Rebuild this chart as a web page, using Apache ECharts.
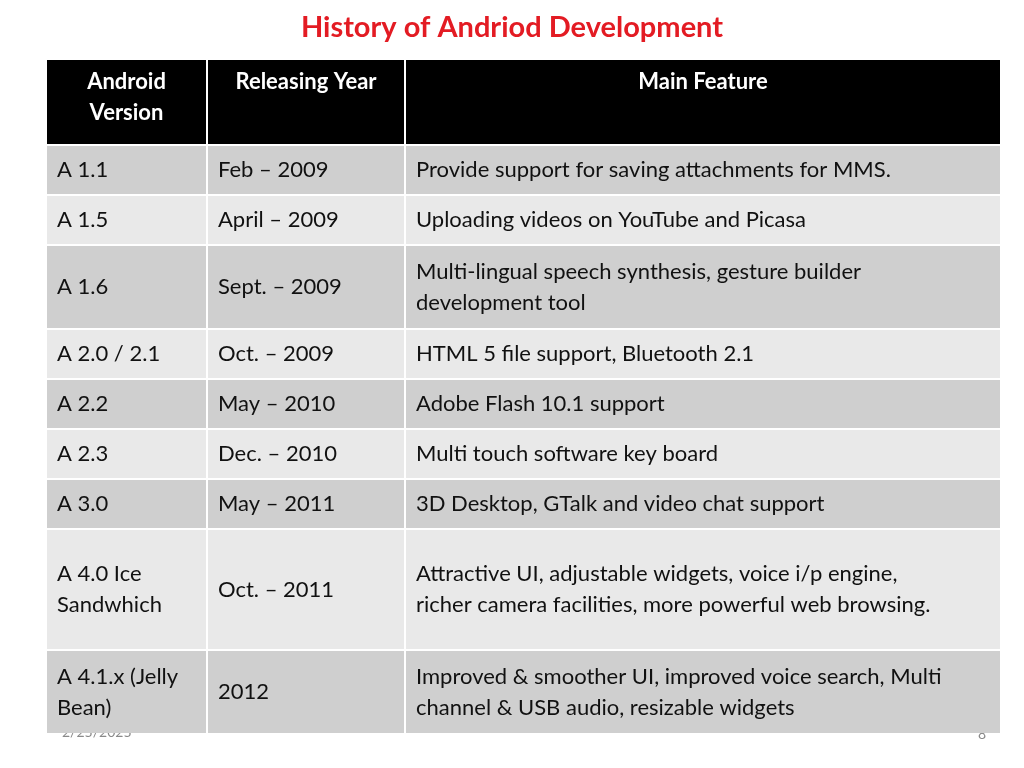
<!DOCTYPE html>
<html>
<head>
<meta charset="utf-8">
<script src="https://cdn.jsdelivr.net/npm/echarts@6/dist/echarts.min.js"></script>
<style>html,body{margin:0;background:#fff}#main{width:1024px;height:768px}</style>
</head>
<body>
<div id="main"></div>
<script>
var headers = ['Android\nVersion', 'Releasing Year', 'Main Feature'];
var versions = ['A 1.1', 'A 1.5', 'A 1.6', 'A 2.0 / 2.1', 'A 2.2', 'A 2.3', 'A 3.0', 'A 4.0 Ice\nSandwhich', 'A 4.1.x (Jelly\nBean)'];
var years = ['Feb – 2009', 'April – 2009', 'Sept. – 2009', 'Oct. – 2009', 'May – 2010', 'Dec. – 2010', 'May – 2011', 'Oct. – 2011', '2012'];
var features = [
  'Provide support for saving attachments for MMS.',
  'Uploading videos on YouTube and Picasa',
  'Multi-lingual speech synthesis, gesture builder\ndevelopment tool',
  'HTML 5 file support, Bluetooth 2.1',
  'Adobe Flash 10.1 support',
  'Multi touch software key board',
  '3D Desktop, GTalk and video chat support',
  'Attractive UI, adjustable widgets, voice i/p engine,\nricher camera facilities, more powerful web browsing.',
  'Improved & smoother UI, improved voice search, Multi\nchannel & USB audio, resizable widgets'
];

// layout
var colEdges = [47, 207, 405, 1001];
var rowHeights = [84, 48, 48, 82, 48, 48, 48, 48, 119, 82];
var tableTop = 60, gap = 2;
var rowTops = [];
var acc = tableTop;
rowHeights.forEach(function (h) { rowTops.push(acc); acc += h + gap; });

var cells = [];
headers.forEach(function (t, c) { cells.push([c, 0, t]); });
[versions, years, features].forEach(function (col, c) {
  col.forEach(function (t, r) { cells.push([c, r + 1, t]); });
});

var font = '"Lato", "Open Sans", sans-serif';

var chart = echarts.init(document.getElementById('main'));
chart.setOption({
  animation: false,
  title: {
    text: 'History of Andriod Development', left: 'center', top: 8,
    textStyle: { color: '#e31b23', fontSize: 29, fontWeight: 'bold', fontFamily: font }
  },
  grid: { left: 0, right: 0, top: 0, bottom: 0 },
  xAxis: { type: 'value', min: 0, max: 1024, show: false },
  yAxis: { type: 'value', min: 0, max: 768, inverse: true, show: false },
  graphic: [
    { type: 'text', left: 62, top: 725, style: { text: '2/25/2025', fill: '#8a8a8a', font: '14px ' + font } },
    { type: 'text', left: 978, top: 727, style: { text: '8', fill: '#8a8a8a', font: '14px ' + font } }
  ],
  series: [{
    type: 'custom',
    data: cells,
    renderItem: function (params, api) {
      var c = api.value(0), r = api.value(1);
      var text = cells[params.dataIndex][2];
      var p0 = api.coord([colEdges[c] + (c ? 1 : 0), rowTops[r]]);
      var p1 = api.coord([colEdges[c + 1] - 1, rowTops[r] + rowHeights[r]]);
      var w = p1[0] - p0[0], h = p1[1] - p0[1];
      var header = r === 0;
      var fill = header ? '#000' : (r % 2 === 1 ? '#cfcfcf' : '#e9e9e9');
      return {
        type: 'group',
        children: [
          { type: 'rect', shape: { x: p0[0], y: p0[1], width: w, height: h }, style: { fill: fill } },
          {
            type: 'text',
            style: header ? {
              text: text, x: p0[0] + w / 2, y: p0[1] + 6, align: 'center', verticalAlign: 'top',
              fill: '#fff', font: 'bold 22px ' + font, lineHeight: 31
            } : {
              text: text, x: p0[0] + 10, y: p0[1] + h / 2, align: 'left', verticalAlign: 'middle',
              fill: '#111', font: '22px ' + font, lineHeight: 31
            }
          }
        ]
      };
    }
  }]
});
</script>
</body>
</html>
